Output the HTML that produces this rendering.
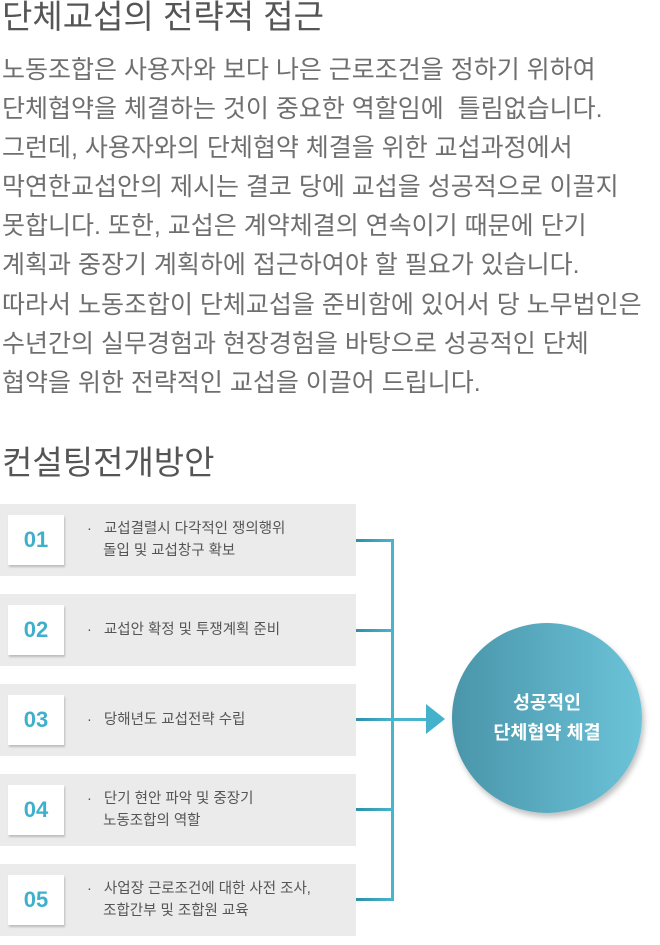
<!DOCTYPE html>
<html><head><meta charset="utf-8"><style>
body{margin:0;width:660px;height:945px;background:#fff;position:relative;overflow:hidden;font-family:"Liberation Sans","Noto Sans CJK KR",sans-serif;}
.t{position:absolute;left:2px;color:#555;font-size:33px;line-height:38px;white-space:nowrap;}
.p{position:absolute;left:2px;top:51px;color:#6f6f6f;font-size:25px;line-height:39.1px;white-space:nowrap;}
.row{position:absolute;left:0;width:356px;height:72px;background:#ebebeb;}
.num{position:absolute;left:8px;top:11px;width:56px;height:50px;background:#fff;box-shadow:1px 2px 2px rgba(0,0,0,.2);color:#3fb0cc;font-size:22px;font-weight:bold;text-align:center;line-height:50px;}
.tx{position:absolute;left:87px;color:#555;font-size:14.5px;line-height:22px;white-space:nowrap;}
.h{position:absolute;left:356px;width:37px;height:3px;background:linear-gradient(90deg,#2e8fa8,#48b5cf);}
</style></head><body>
<div class="t" style="top:-2px">단체교섭의 전략적 접근</div>
<div class="p">노동조합은 사용자와 보다 나은 근로조건을 정하기 위하여<br>단체협약을 체결하는 것이 중요한 역할임에 &nbsp;틀림없습니다.<br>그런데, 사용자와의 단체협약 체결을 위한 교섭과정에서<br>막연한교섭안의 제시는 결코 당에 교섭을 성공적으로 이끌지<br>못합니다. 또한, 교섭은 계약체결의 연속이기 때문에 단기<br>계획과 중장기 계획하에 접근하여야 할 필요가 있습니다.<br>따라서 노동조합이 단체교섭을 준비함에 있어서 당 노무법인은<br>수년간의 실무경험과 현장경험을 바탕으로 성공적인 단체<br>협약을 위한 전략적인 교섭을 이끌어 드립니다.</div>
<div class="t" style="top:444px">컨설팅전개방안</div>

<div class="row" style="top:504px"><div class="num">01</div><div class="tx" style="top:14px">·&nbsp;&nbsp; 교섭결렬시 다각적인 쟁의행위<br>&nbsp;&nbsp;&nbsp;&nbsp;돌입 및 교섭창구 확보</div></div>
<div class="row" style="top:594px"><div class="num">02</div><div class="tx" style="top:25px">·&nbsp;&nbsp; 교섭안 확정 및 투쟁계획 준비</div></div>
<div class="row" style="top:684px"><div class="num">03</div><div class="tx" style="top:25px">·&nbsp;&nbsp; 당해년도 교섭전략 수립</div></div>
<div class="row" style="top:774px"><div class="num">04</div><div class="tx" style="top:14px">·&nbsp;&nbsp; 단기 현안 파악 및 중장기<br>&nbsp;&nbsp;&nbsp;&nbsp;노동조합의 역할</div></div>
<div class="row" style="top:864px"><div class="num">05</div><div class="tx" style="top:14px">·&nbsp;&nbsp; 사업장 근로조건에 대한 사전 조사,<br>&nbsp;&nbsp;&nbsp;&nbsp;조합간부 및 조합원 교육</div></div>

<div class="h" style="top:539px"></div>
<div class="h" style="top:629px"></div>
<div class="h" style="top:718px"></div>
<div class="h" style="top:808px"></div>
<div class="h" style="top:898px"></div>
<div style="position:absolute;left:391px;top:539px;width:3px;height:362px;background:#48b5cf"></div>
<div style="position:absolute;left:393px;top:718px;width:34px;height:3px;background:#48b5cf"></div>
<div style="position:absolute;left:426px;top:704px;width:0;height:0;border-top:15px solid transparent;border-bottom:15px solid transparent;border-left:19px solid #45b2cc"></div>
<div style="position:absolute;left:452px;top:623px;width:190px;height:190px;border-radius:50%;background:linear-gradient(90deg,#4a95aa,#6bc3d8);box-shadow:2px 4px 6px rgba(0,0,0,.25);color:#fff;font-weight:bold;font-size:18.5px;line-height:30px;text-align:center;display:flex;align-items:center;justify-content:center;">성공적인<br>단체협약 체결</div>
</body></html>
